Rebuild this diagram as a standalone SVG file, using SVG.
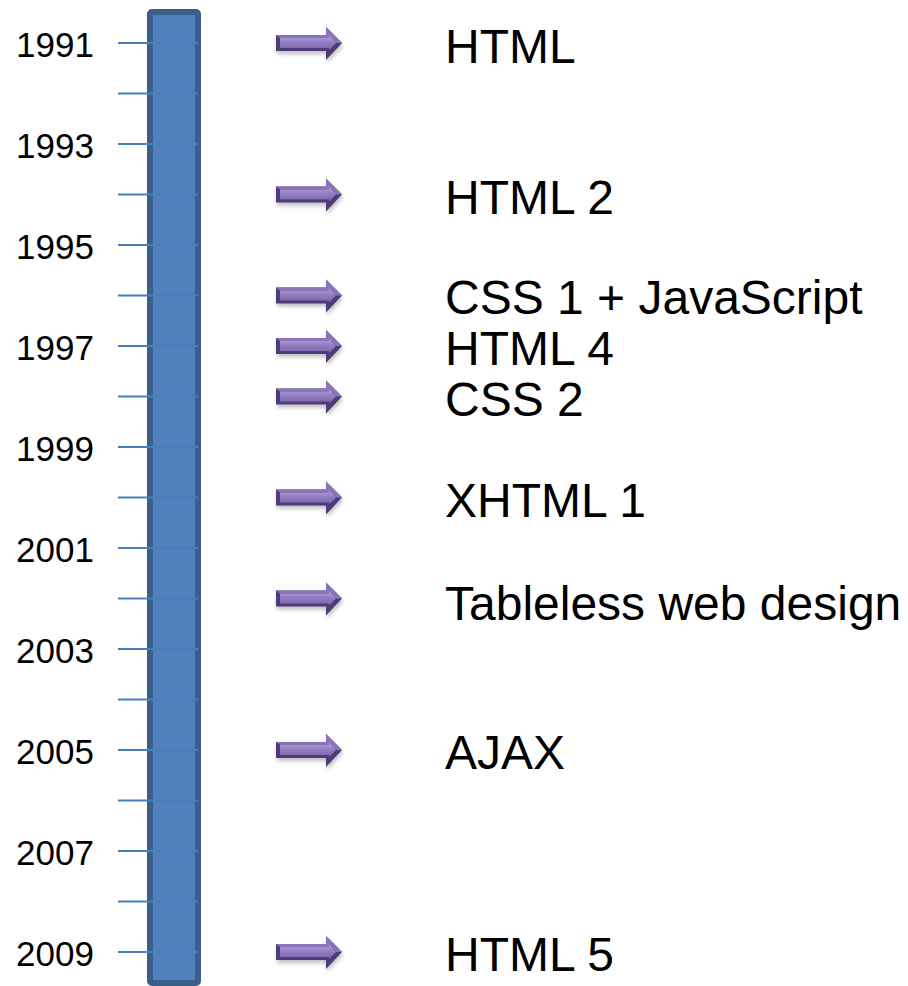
<svg xmlns="http://www.w3.org/2000/svg" width="908" height="986" viewBox="0 0 908 986">
<defs>
<style>
.year{font-family:"Liberation Sans",Arial,sans-serif;font-size:35px;fill:#000}
.lbl{font-family:"Liberation Sans",Arial,sans-serif;font-size:48px;fill:#000}
.tick{stroke:#4a7ebb;stroke-width:2}
</style>
<linearGradient id="face" x1="0" y1="0" x2="0" y2="1">
<stop offset="0" stop-color="#b7a6dc"/>
<stop offset="0.5" stop-color="#927cc2"/>
<stop offset="1" stop-color="#7a64aa"/>
</linearGradient>
<filter id="sh" x="-20%" y="-30%" width="140%" height="170%">
<feGaussianBlur stdDeviation="2"/>
</filter>
<g id="arrow">
<polygon points="0,-8 50,-8 50,-16 66,0 50,17 50,8 0,8" fill="#000" opacity="0.25" filter="url(#sh)" transform="translate(1,3)"/>
<polygon points="0,-8 50,-8 50,-16 66,0 50,17 50,8 0,8" fill="#4e3b78"/>
<polygon points="0,-8 50,-8 50,-16 66,0 60,0 53,-8 53,-5 4,-5" fill="#8a73bb"/>
<polygon points="4,-5 53,-5 53,-8 60,0 53,7 53,5 4,5" fill="url(#face)"/>
</g>
</defs>
<g id="bar">
<rect x="150" y="12" width="48" height="971" rx="2" fill="#4f81bd" stroke="#3b5f8c" stroke-width="6"/>
</g>
<g id="connectors">
<line class="tick" x1="118" y1="43" x2="198" y2="43"/>
<line class="tick" x1="118" y1="93.5" x2="198" y2="93.5"/>
<line class="tick" x1="118" y1="144" x2="198" y2="144"/>
<line class="tick" x1="118" y1="194.5" x2="198" y2="194.5"/>
<line class="tick" x1="118" y1="245" x2="198" y2="245"/>
<line class="tick" x1="118" y1="295.5" x2="198" y2="295.5"/>
<line class="tick" x1="118" y1="346" x2="198" y2="346"/>
<line class="tick" x1="118" y1="396.5" x2="198" y2="396.5"/>
<line class="tick" x1="118" y1="447" x2="198" y2="447"/>
<line class="tick" x1="118" y1="497.5" x2="198" y2="497.5"/>
<line class="tick" x1="118" y1="548" x2="198" y2="548"/>
<line class="tick" x1="118" y1="598.5" x2="198" y2="598.5"/>
<line class="tick" x1="118" y1="649" x2="198" y2="649"/>
<line class="tick" x1="118" y1="699.5" x2="198" y2="699.5"/>
<line class="tick" x1="118" y1="750" x2="198" y2="750"/>
<line class="tick" x1="118" y1="800.5" x2="198" y2="800.5"/>
<line class="tick" x1="118" y1="851" x2="198" y2="851"/>
<line class="tick" x1="118" y1="901.5" x2="198" y2="901.5"/>
<line class="tick" x1="118" y1="952" x2="198" y2="952"/>
</g>
<g id="years">
<text class="year" x="16" y="56.5">1991</text>
<text class="year" x="16" y="157.5">1993</text>
<text class="year" x="16" y="258.5">1995</text>
<text class="year" x="16" y="359.5">1997</text>
<text class="year" x="16" y="460.5">1999</text>
<text class="year" x="16" y="561.5">2001</text>
<text class="year" x="16" y="662.5">2003</text>
<text class="year" x="16" y="763.5">2005</text>
<text class="year" x="16" y="864.5">2007</text>
<text class="year" x="16" y="965.5">2009</text>
</g>
<g id="e-html"><use href="#arrow" x="276" y="43"/><text class="lbl" x="445" y="63">HTML</text></g>
<g id="e-html2"><use href="#arrow" x="276" y="194.5"/><text class="lbl" x="445" y="214">HTML 2</text></g>
<g id="e-css1"><use href="#arrow" x="276" y="295.5"/><text class="lbl" x="445" y="314">CSS 1 + JavaScript</text></g>
<g id="e-html4"><use href="#arrow" x="276" y="346"/><text class="lbl" x="445" y="365">HTML 4</text></g>
<g id="e-css2"><use href="#arrow" x="276" y="396.5"/><text class="lbl" x="445" y="416">CSS 2</text></g>
<g id="e-xhtml1"><use href="#arrow" x="276" y="497.5"/><text class="lbl" x="445" y="517">XHTML 1</text></g>
<g id="e-tableless"><use href="#arrow" x="276" y="598.5"/><text class="lbl" x="445" y="620">Tableless web design</text></g>
<g id="e-ajax"><use href="#arrow" x="276" y="750"/><text class="lbl" x="445" y="769">AJAX</text></g>
<g id="e-html5"><use href="#arrow" x="276" y="952"/><text class="lbl" x="445" y="971">HTML 5</text></g>
</svg>
